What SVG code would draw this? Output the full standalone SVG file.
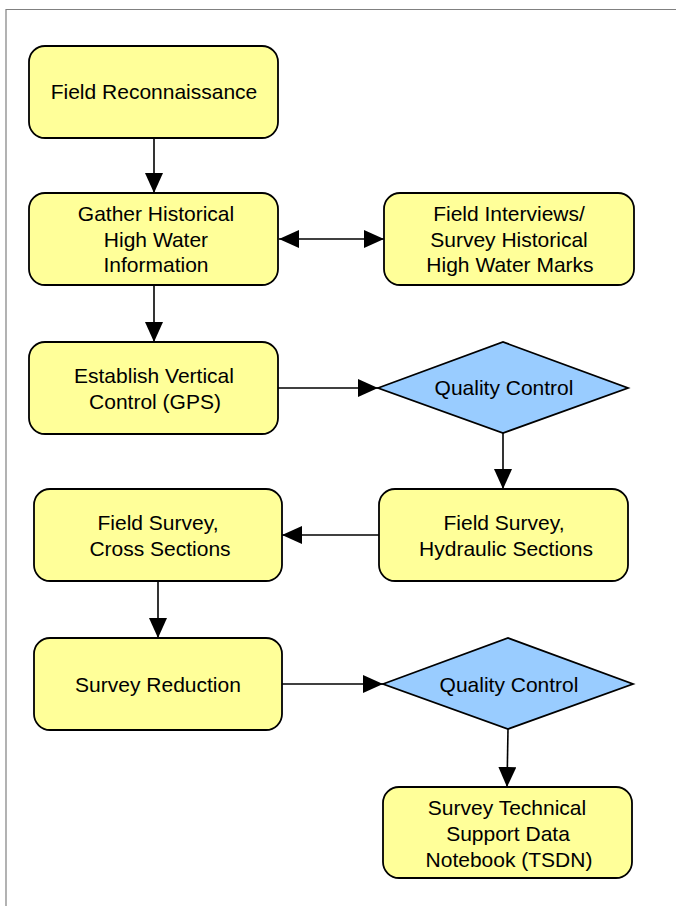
<svg xmlns="http://www.w3.org/2000/svg" width="676" height="906" viewBox="0 0 676 906">
<style>
.box{fill:#FFFF99;stroke:#000;stroke-width:1.8}
.dia{fill:#99CCFF;stroke:#000;stroke-width:1.8}
.t{font-family:"Liberation Sans",Arial,sans-serif;font-size:21px;fill:#000;text-anchor:middle}
.c{stroke:#000;stroke-width:1.6;fill:none}
</style>
<defs>
<marker id="ah" viewBox="0 0 20 18" refX="20" refY="9" markerWidth="20" markerHeight="18" markerUnits="userSpaceOnUse" orient="auto-start-reverse">
<path d="M0,0 L20,9 L0,18 z" fill="#000"/>
</marker>
</defs>
<rect x="0" y="0" width="676" height="906" fill="#fff"/>
<path d="M6,906 V9.5 H676" fill="none" stroke="#808080" stroke-width="1.2"/>
<g id="connectors">
<line class="c" x1="154" y1="138" x2="154" y2="193" marker-end="url(#ah)"/>
<line class="c" x1="279" y1="239" x2="384" y2="239" marker-start="url(#ah)" marker-end="url(#ah)"/>
<line class="c" x1="154" y1="285" x2="154" y2="342" marker-end="url(#ah)"/>
<line class="c" x1="278" y1="388" x2="378" y2="388" marker-end="url(#ah)"/>
<line class="c" x1="503" y1="433" x2="503" y2="489" marker-end="url(#ah)"/>
<line class="c" x1="379" y1="535" x2="282" y2="535" marker-end="url(#ah)"/>
<line class="c" x1="158" y1="581" x2="158" y2="638" marker-end="url(#ah)"/>
<line class="c" x1="282" y1="684" x2="383" y2="684" marker-end="url(#ah)"/>
<line class="c" x1="508" y1="729" x2="507" y2="787" marker-end="url(#ah)"/>
</g>
<g id="n1"><rect class="box" x="29" y="46" width="249" height="92" rx="16"/><text class="t" x="154" y="99">Field Reconnaissance</text></g>
<g id="n2"><rect class="box" x="29" y="193" width="249" height="92" rx="16"/><text class="t" x="156" y="221">Gather Historical</text><text class="t" x="156" y="246.5">High Water</text><text class="t" x="156" y="272">Information</text></g>
<g id="n3"><rect class="box" x="384" y="193" width="250" height="92" rx="16"/><text class="t" x="509" y="221">Field Interviews/</text><text class="t" x="509" y="246.5">Survey Historical</text><text class="t" x="510" y="272">High Water Marks</text></g>
<g id="n4"><rect class="box" x="29" y="342" width="249" height="92" rx="16"/><text class="t" x="154" y="383">Establish Vertical</text><text class="t" x="155" y="408.5">Control (GPS)</text></g>
<g id="d1"><polygon class="dia" points="378,388 503,342 628,388 503,433"/><text class="t" x="504" y="395">Quality Control</text></g>
<g id="n5"><rect class="box" x="379" y="489" width="249" height="92" rx="16"/><text class="t" x="504" y="530">Field Survey,</text><text class="t" x="506" y="556">Hydraulic Sections</text></g>
<g id="n6"><rect class="box" x="34" y="489" width="248" height="92" rx="16"/><text class="t" x="158" y="530">Field Survey,</text><text class="t" x="160" y="556">Cross Sections</text></g>
<g id="n7"><rect class="box" x="34" y="638" width="248" height="92" rx="16"/><text class="t" x="158" y="692">Survey Reduction</text></g>
<g id="d2"><polygon class="dia" points="383,684 508,638 633,684 508,729"/><text class="t" x="509" y="692">Quality Control</text></g>
<g id="n8"><rect class="box" x="383" y="787" width="249" height="91" rx="16"/><text class="t" x="507" y="815">Survey Technical</text><text class="t" x="508" y="841">Support Data</text><text class="t" x="509" y="867">Notebook (TSDN)</text></g>
</svg>
